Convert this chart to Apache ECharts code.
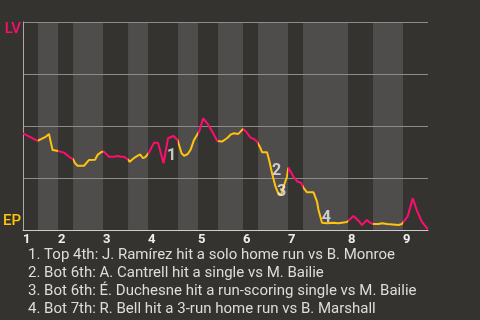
<!DOCTYPE html>
<html><head><meta charset="utf-8">
<script src="https://cdn.jsdelivr.net/npm/echarts@6/dist/echarts.min.js"></script>
<style>html,body{margin:0;padding:0;background:#35332f;}#c{width:480px;height:320px;}</style>
</head><body><div id="c"></div>
<script>
// Inning labels and half-inning boundaries (in plate-appearance units)
const innings = ['1','2','3','4','5','6','7','8','9'];
const halfBounds = [0,3,7,10,16,21,25,31,35,39,44,47,53,56,65,70,76,81];
// LV win probability (%) over the game
const wpX = [0,2.9,3.7,4.6,5.2,5.3,5.9,6.25,6.8,7.2,8.2,9.2,10,10.4,10.9,12.2,13.2,14.4,14.9,15.6,16.1,17.2,17.6,18.2,18.9,19.6,20.2,20.9,21.35,21.9,22.55,23.4,24,24.5,25.1,26.2,27,28.1,29,30.1,30.9,31.7,32.2,32.9,33.5,34.2,35.2,36.05,36.85,37.85,38.85,39.8,40.8,41.6,42.2,42.5,43,43.5,44,44.5,45.5,46.15,46.8,47.5,47.8,48.8,49.3,49.8,50.5,51.1,51.6,52.1,52.8,53.07,54.1,54.9,55.6,56.1,56.8,58.1,58.8,59.1,59.8,60.8,62.1,63.1,64.8,66.1,67.1,67.8,68.8,69.4,70,71.1,71.8,72.8,73.1,75.1,75.8,76.1,76.9,77.95,78.75,79.75,81];
const wpY = [46.5,42.9,43.8,44.9,46.2,44.9,38.5,38.0,38.1,38.9,37.2,35.2,34.1,32.1,30.9,30.9,33.7,33.8,36.1,37.4,37.8,35.2,34.5,35.2,35.6,35.2,35.2,34.0,32.8,34.0,35.2,36.4,34.5,35.2,36.9,42.0,42.0,32.1,44.1,45.2,43.3,36.9,35.7,36.4,38.5,43.3,47.3,53.7,51.3,47.3,42.8,42.5,44.1,46.0,46.5,47.0,46.2,47.3,48.6,47.6,44.4,43.8,42.5,39.3,37.4,37.4,32.8,27.3,20.8,17.2,16.8,20.8,25.6,30.0,25.6,23.2,22.7,20.2,18.1,18.1,13.6,9.6,3.5,3.2,3.5,3.2,3.8,6.7,4.5,2.4,4.8,3.5,2.9,2.9,3.2,2.9,2.4,2.4,2.9,3.2,6.4,15.2,9.6,4.0,0.3];
// Key events
const eventNums = ['1','2','3','4'];
const eventX = [29.7,50.7,51.7,60.65];
const eventY = [35.6,28.4,18.3,5.8];
const notes = [
  '1. Top 4th: J. Ramírez hit a solo home run vs B. Monroe',
  '2. Bot 6th: A. Cantrell hit a single vs M. Bailie',
  '3. Bot 6th: É. Duchesne hit a run-scoring single vs M. Bailie',
  '4. Bot 7th: R. Bell hit a 3-run home run vs B. Marshall'
];

const PINK = '#ff0d6e', YELLOW = '#ffc20e';
const lineData = wpX.map((x,i)=>[x, wpY[i]]);
const inningStarts = [];
const bottomHalves = [];
const pieces = [];
for (let i = 0; i < halfBounds.length - 1; i++) {
  const a = halfBounds[i], b = halfBounds[i+1];
  if (i % 2 === 0) inningStarts.push(a); else bottomHalves.push([a, b]);
  const p = {gte: a, color: i % 2 === 0 ? PINK : YELLOW};
  if (i === halfBounds.length - 2) p.lte = b; else p.lt = b;
  pieces.push(p);
}
const xMax = halfBounds[halfBounds.length-1];

const chart = echarts.init(document.getElementById('c'), null, {renderer:'canvas'});
chart.setOption({
  backgroundColor: '#35332f',
  animation: false,
  textStyle: {fontFamily: 'Roboto'},
  title: {
    text: notes.join('\n'), left: 23, top: 241,
    textStyle: {color: '#dddddd', fontSize: 15, fontWeight: 'normal', lineHeight: 18, fontFamily: 'Roboto'}
  },
  grid: {left: 22, right: 52, top: 22, bottom: 90, containLabel: false},
  xAxis: {
    type: 'value', min: 0, max: xMax, interval: 1,
    splitLine: {show: false}, axisTick: {show: false},
    axisLine: {show: true, lineStyle: {color: '#cccccc', width: 1}},
    axisLabel: {
      show: true, margin: 3, align: 'left', color: '#eeeeee', fontSize: 13, fontWeight: 'bold', fontFamily: 'Roboto',
      formatter: v => { const k = inningStarts.indexOf(v); return k >= 0 ? innings[k] : ''; }
    }
  },
  yAxis: {
    type: 'value', min: 0, max: 100, interval: 25,
    splitLine: {show: true, lineStyle: {color: '#8c8c8c', width: 1}},
    axisLine: {show: true, lineStyle: {color: '#aaaaaa', width: 1}},
    axisTick: {show: false},
    axisLabel: {
      margin: 2, verticalAlign: 'middle',
      formatter: v => v === 100 ? '{lv|LV}' : (v === 0 ? '{ep|EP}' : ''),
      rich: {
        lv: {color: PINK, fontSize: 15, fontWeight: 500, fontFamily: 'Roboto', padding: [15,0,0,0]},
        ep: {color: YELLOW, fontSize: 15, fontWeight: 500, fontFamily: 'Roboto', padding: [0,0,17,0]}
      }
    }
  },
  visualMap: {type: 'piecewise', show: false, dimension: 0, seriesIndex: 1, pieces: pieces},
  series: [
    {
      type: 'custom', z: -1, silent: true,
      data: bottomHalves,
      encode: {x: [0, 1]},
      renderItem: (params, api) => {
        const p0 = api.coord([api.value(0), 100]);
        const p1 = api.coord([api.value(1), 0]);
        return {type: 'rect', shape: {x: p0[0], y: p0[1], width: p1[0]-p0[0], height: p1[1]-p0[1]}, style: {fill: '#4e4d4b'}};
      }
    },
    {
      type: 'line', data: lineData, showSymbol: false, z: 3,
      lineStyle: {width: 2}
    },
    {
      type: 'scatter', symbolSize: 0, z: 4, silent: true,
      data: eventNums.map((n,i)=>({name: n, value: [eventX[i], eventY[i]]})),
      label: {show: true, position: 'inside', formatter: p => p.name, color: '#eeeeee', fontSize: 16, fontWeight: 'bold', fontFamily: 'Roboto'}
    }
  ]
});
</script></body></html>
